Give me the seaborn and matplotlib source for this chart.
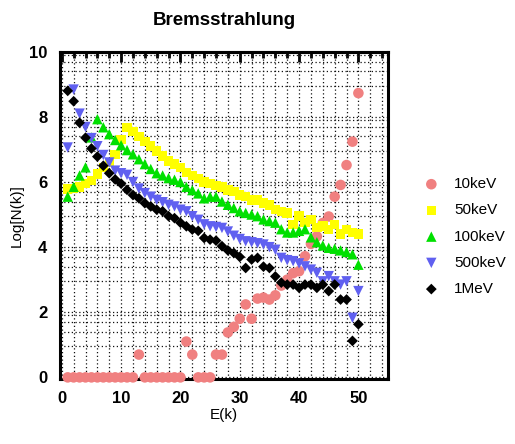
import numpy as np
import pandas as pd
import matplotlib
matplotlib.use("Agg")
import matplotlib.pyplot as plt
import seaborn as sns
from matplotlib.ticker import FixedLocator, MultipleLocator, NullFormatter

sns.set_style("white")
plt.rcParams['font.family'] = ['Liberation Sans', 'DejaVu Sans']
plt.rcParams['text.color'] = 'black'
plt.rcParams['axes.labelcolor'] = 'black'
plt.rcParams['xtick.color'] = 'black'
plt.rcParams['ytick.color'] = 'black'

E = list(range(1, 51))
kev10 = [0]*12 + [0.7] + [0]*7 + [1.1, 0.7, 0, 0, 0, 0.7, 0.7, 1.38, 1.55, 1.8,
         2.24, 1.8, 2.42, 2.45, 2.39, 2.52, 2.82, 3.0, 3.2, 3.26,
         3.72, 4.1, 4.33, 4.74, 4.94, 5.55, 5.91, 6.52, 7.24, 8.73]
kev50 = [5.78, 5.8, 5.85, 5.95, 6.05, 6.25, 6.45, 6.6, 6.85, 7.3,
         7.68, 7.55, 7.4, 7.25, 7.1, 6.95, 6.8, 6.65, 6.55, 6.45,
         6.3, 6.2, 6.1, 6.0, 5.95, 5.9, 5.85, 5.75, 5.7, 5.6,
         5.55, 5.45, 5.45, 5.35, 5.3, 5.15, 5.1, 5.05, 4.7, 4.95,
         4.75, 4.85, 4.6, 4.65, 4.55, 4.7, 4.4, 4.55, 4.45, 4.4]
kev100 = [5.55, 5.85, 6.2, 6.45, 7.37, 7.93, 7.68, 7.47, 7.29, 7.13,
          6.98, 6.85, 6.7, 6.55, 6.4, 6.27, 6.2, 6.12, 6.07, 6.0,
          5.85, 5.75, 5.65, 5.5, 5.55, 5.55, 5.4, 5.3, 5.2, 5.1,
          5.05, 5.0, 4.95, 4.85, 4.8, 4.75, 4.55, 4.45, 4.45, 4.5,
          4.55, 4.3, 4.15, 4.05, 3.98, 3.95, 3.9, 3.85, 3.78, 3.46]
kev500 = [7.06, 8.84, 8.10, 7.69, 7.35, 7.10, 6.83, 6.6, 6.35, 6.27,
          6.22, 6.0, 5.8, 5.66, 5.55, 5.45, 5.38, 5.3, 5.25, 5.15,
          5.1, 4.95, 4.84, 4.7, 4.64, 4.62, 4.59, 4.48, 4.35, 4.25,
          4.18, 4.15, 4.12, 4.08, 4.0, 3.92, 3.67, 3.6, 3.57, 3.5,
          3.41, 3.31, 3.21, 2.95, 3.11, 2.95, 2.85, 2.95, 1.83, 2.65]
mev1 = [8.80, 8.48, 7.82, 7.36, 7.03, 6.78, 6.5, 6.27, 6.08, 5.95,
        5.76, 5.6, 5.5, 5.35, 5.25, 5.15, 5.1, 4.95, 4.89, 4.75,
        4.64, 4.54, 4.5, 4.28, 4.23, 4.2, 4.03, 3.9, 3.82, 3.7,
        3.36, 3.62, 3.67, 3.4, 3.36, 3.1, 2.91, 2.85, 2.85, 2.75,
        2.85, 2.85, 2.75, 2.85, 2.65, 2.85, 2.39, 2.39, 1.12, 1.63]

labels = ["10keV", "50keV", "100keV", "500keV", "1MeV"]
series = [kev10, kev50, kev100, kev500, mev1]
colors = ["#F08080", "#FFFF00", "#00E000", "#6060F0", "#000000"]
markers = ["o", "s", "^", "v", "D"]
sizes = [58, 46, 56, 56, 30]

df = pd.concat([pd.DataFrame({"E": E, "logN": v, "series": lab})
                for lab, v in zip(labels, series)], ignore_index=True)

fig = plt.figure(figsize=(5.15, 4.44), dpi=100)
ax = fig.add_axes([0.1165, 0.1464, 0.637, 0.737])

for lab, c, m, s in zip(labels, colors, markers, sizes):
    sns.scatterplot(data=df[df.series == lab], x="E", y="logN", color=c,
                    marker=m, s=s, edgecolor="none", linewidth=0,
                    ax=ax, label=lab, zorder=3, clip_on=False)

ax.set_xlim(-0.3, 55)
ax.set_ylim(-0.05, 10)

xt = [0, 10, 20, 30, 40, 50]
ax.xaxis.set_major_locator(FixedLocator(xt))
ax.xaxis.set_minor_locator(MultipleLocator(2))
yt = [0, 2, 4, 6, 8, 10]
ax.yaxis.set_major_locator(FixedLocator(yt))
fr = 2 * np.log10([3, 5, 7, 9])
yminor = [b + f for b in yt[:-1] for f in fr]
ax.yaxis.set_minor_locator(FixedLocator(yminor))

ax.grid(which="both", axis="both", color="#111111", linestyle=(0, (1, 2)),
        linewidth=0.9, zorder=0)
ax.set_axisbelow(True)

for sp in ax.spines.values():
    sp.set_visible(True)
    sp.set_linewidth(2.2)
    sp.set_color("black")

ax.tick_params(axis="both", which="major", direction="out", length=7, width=2,
               labelsize=12, pad=2)
ax.tick_params(axis="both", which="minor", direction="out", length=4, width=2)
for lbl in ax.get_xticklabels() + ax.get_yticklabels():
    lbl.set_fontweight("bold")

# top ticks pointing inward
sec = ax.secondary_xaxis("top")
sec.xaxis.set_major_locator(FixedLocator(xt))
sec.xaxis.set_minor_locator(MultipleLocator(2))
sec.xaxis.set_major_formatter(NullFormatter())
sec.tick_params(which="major", direction="in", length=7, width=2)
sec.tick_params(which="minor", direction="in", length=4, width=2)
sec.spines["top"].set_linewidth(2.2)

ax.set_xlabel("E(k)", fontsize=11, labelpad=1)
ax.set_ylabel("Log[N(k)]", fontsize=11, labelpad=4)
ax.set_title("Bremsstrahlung", fontsize=13.5, fontweight="bold", pad=19)

ax.legend(loc="center left", bbox_to_anchor=(1.09, 0.435), frameon=False,
          fontsize=11, handletextpad=1.0, labelspacing=0.8,
          handlelength=1.0, borderaxespad=0)

fig.savefig("out.png", dpi=100)
